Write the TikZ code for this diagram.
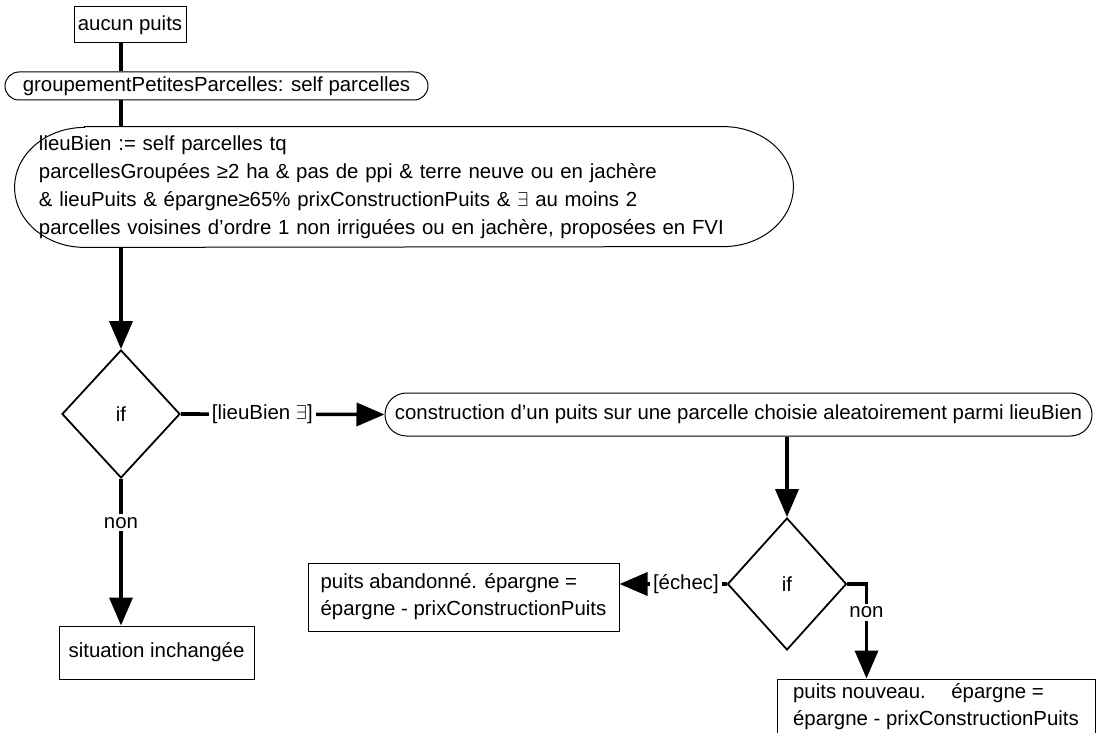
\documentclass[tikz,border=0pt]{standalone}
\usepackage{fontspec}
\setmainfont{Liberation Sans}
\usepackage{tikz}
\usetikzlibrary{arrows.meta,positioning,shapes.geometric,shapes.misc}
\definecolor{adInk}{HTML}{000000}
\tikzset{
  ad diagram/.style={font=\fontsize{10.2}{14}\selectfont, text=adInk,
    x=0.5pt, y=-0.5pt},
  ad box/.style={draw=adInk, fill=white, line width=0.5pt, inner sep=0pt,
    align=center},
  ad note/.style={ad box, align=left,
    font=\fontsize{10.2}{13.5}\selectfont},
  ad round/.style={rounded rectangle, draw=adInk, line width=0.5pt,
    inner sep=0pt, align=center},
  ad outline/.style={draw=adInk, line width=0.5pt},
  ad decision/.style={diamond, draw=adInk, line width=0.9pt, inner sep=0pt},
  ad line/.style={draw=adInk, line width=1.8pt},
  ad flow/.style={ad line, -{Triangle[length=14pt,width=11.5pt]}},
  ad label/.style={fill=white, inner sep=1.5pt}
}

\begin{document}
\begin{tikzpicture}[ad diagram]
\useasboundingbox (0,0) rectangle (1098,733);
\node[ad box, minimum width=56pt, minimum height=18pt] (start) at (130,25) {aucun puits};
\node[ad round, minimum width=211.5pt, minimum height=14pt] (grp) at (216.5,86)
  {groupementPetitesParcelles: self parcelles};
\node[align=left, text width=365pt, inner xsep=12pt, inner ysep=0pt,
  minimum width=389pt, minimum height=60pt] (lieu) at (404,187)
  {lieuBien := self parcelles tq\\
   parcellesGroupées ≥2 ha \& pas de ppi \& terre neuve ou en jachère\\
   \& lieuPuits \& épargne≥65\% prixConstructionPuits \& $\exists$ au moins 2\\
   parcelles voisines d'ordre 1 non irriguées ou en jachère, proposées en FVI};
\draw[ad outline] ([xshift=35pt]lieu.north west) -- ([xshift=-35pt]lieu.north east)
  arc[start angle=90, end angle=-90, x radius=35pt, y radius=30pt]
  -- ([xshift=35pt]lieu.south west)
  arc[start angle=270, end angle=90, x radius=35pt, y radius=30pt] -- cycle;
\node[ad decision, minimum width=59pt, minimum height=64pt] (diamA) at (121,414) {if};
\node[ad round, minimum width=353.5pt, minimum height=21.5pt] (constr) at (738.5,414.5)
  {construction d'un puits sur une parcelle choisie aleatoirement parmi lieuBien};
\node[ad box, minimum width=97.5pt, minimum height=26.5pt] (situ) at (156.5,652.5)
  {situation inchangée};
\node[ad decision, minimum width=59.5pt, minimum height=66pt] (diamB) at (787,584) {if};
\node[ad note, minimum width=155.5pt, minimum height=34pt] (aband) at (463.5,597)
  {puits abandonné. épargne =\\épargne - prixConstructionPuits};
\node[ad note, minimum width=159pt, minimum height=27.5pt] (nouv) at (936,706.5)
  {puits nouveau.\hspace{9pt} épargne =\\épargne - prixConstructionPuits};
\draw[ad line] (start.south -| diamA.north) -- (grp.north -| diamA.north);
\draw[ad line] (grp.south -| diamA.north) -- (lieu.north -| diamA.north);
\draw[ad flow] (lieu.south -| diamA.north) -- (diamA.north);
\draw[ad flow] (diamA.east) -- node[ad label, pos=0.4] {[lieuBien $\exists$]} (constr.west);
\draw[ad flow] (diamA.south) -- node[ad label, pos=0.3] {non} (situ.north -| diamA.south);
\draw[ad flow] (constr.south -| diamB.north) -- (diamB.north);
\draw[ad flow] (diamB.west) -- node[ad label, pos=0.38] {[échec]} (diamB.west -| aband.east);
\draw[ad flow] (diamB.east) -| node[ad label, pos=0.65] {non} ([xshift=45pt]nouv.north west);
\end{tikzpicture}
\end{document}
